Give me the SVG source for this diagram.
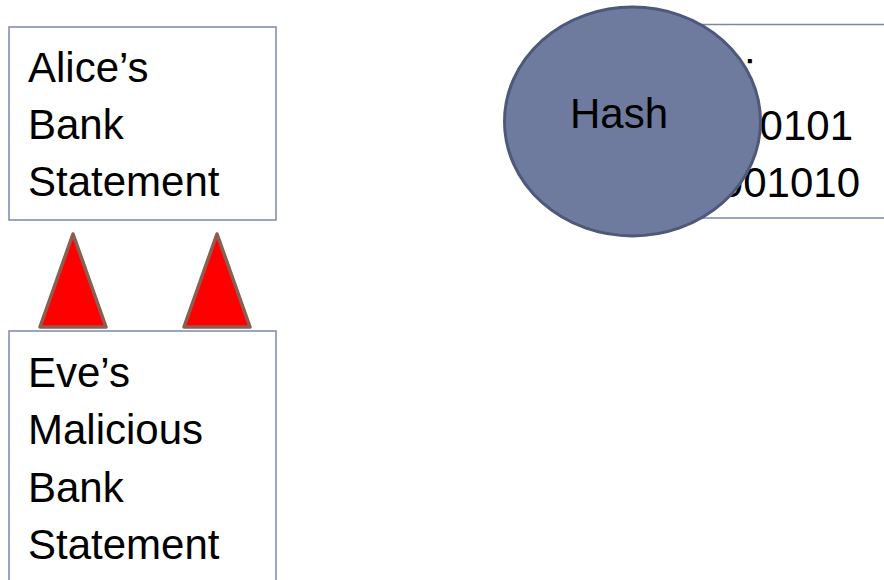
<svg xmlns="http://www.w3.org/2000/svg" width="884" height="580" viewBox="0 0 884 580">
<style>
.box{fill:#ffffff;stroke:#7b86ad;stroke-width:1.5}
.t{font-family:"Liberation Sans",Arial,sans-serif;font-size:42px;fill:#000000}
.tri{fill:#ff0000;stroke:#8b5e50;stroke-width:3.5;stroke-linejoin:round}
.hash{fill:#6f7a9f;stroke:#4e5878;stroke-width:3}
</style>
<rect x="0" y="0" width="884" height="580" fill="#ffffff"/>
<g id="alice">
<rect class="box" x="9" y="27" width="267" height="193"/>
<text class="t" x="28" y="82">Alice’s</text>
<text class="t" x="28" y="139">Bank</text>
<text class="t" x="28" y="196">Statement</text>
</g>
<g id="eve">
<rect class="box" x="9" y="331" width="267" height="280"/>
<text class="t" x="28" y="387">Eve’s</text>
<text class="t" x="28" y="444">Malicious</text>
<text class="t" x="28" y="502">Bank</text>
<text class="t" x="28" y="559">Statement</text>
</g>
<g id="connectors">
<polygon class="tri" points="73,234 106,327 40,327"/>
<polygon class="tri" points="217,234 250,327 184,327"/>
</g>
<g id="digest">
<rect class="box" x="600" y="24.5" width="300" height="193.5"/>
<text class="t" x="744" y="82">:</text>
<text class="t" x="853" y="140" text-anchor="end">0101</text>
<text class="t" x="860" y="197" text-anchor="end">001010</text>
</g>
<g id="hash">
<ellipse class="hash" cx="632.5" cy="121.5" rx="128" ry="114.5"/>
<text class="t" x="619" y="128" text-anchor="middle" font-size="41">Hash</text>
</g>
</svg>
